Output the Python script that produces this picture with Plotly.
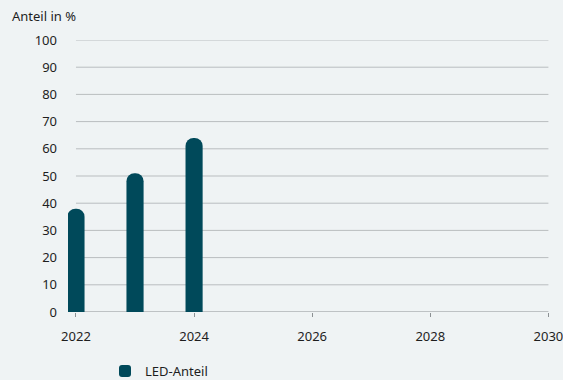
import plotly.graph_objects as go

years = [2022, 2023, 2024]
led_share = [38, 51, 64]
x_ticks = [2022, 2024, 2026, 2028, 2030]
y_ticks = [0, 10, 20, 30, 40, 50, 60, 70, 80, 90, 100]
series_name = "LED-Anteil"
y_title = "Anteil in %"

BAR = "#00495a"
BG = "#eff3f4"
GRID = "#b9bdbf"
AXIS = "#8c9194"
TXT = "#1e1e1e"
FONT = "Noto Sans"

x_start, x_end = x_ticks[0], x_ticks[-1]

fig = go.Figure()
fig.add_trace(go.Bar(
    x=years, y=led_share, name=series_name,
    marker=dict(color=BAR, line=dict(width=0), cornerradius="50%"),
    width=0.29, showlegend=True,
))

# gridlines and axis line drawn only over the data span (2022-2030)
shapes = []
for v in y_ticks:
    shapes.append(dict(type="line", xref="x", yref="y", x0=x_start, x1=x_end,
                       y0=v, y1=v, layer="below",
                       line=dict(color=AXIS if v == 0 else GRID, width=1)))

fig.update_layout(
    width=563, height=380,
    margin=dict(l=68, r=14, t=40, b=68, autoexpand=False),
    paper_bgcolor=BG, plot_bgcolor=BG,
    font=dict(family=FONT, size=13, color=TXT),
    title=dict(text=y_title, x=12/563, xref="container", xanchor="left",
               y=1-16/380, yref="container", yanchor="middle",
               font=dict(family=FONT, size=13, color=TXT)),
    showlegend=True,
    legend=dict(orientation="h", x=(105-68)/481, xanchor="left",
                y=-(356-312)/272, yanchor="top",
                font=dict(family=FONT, size=13, color=TXT),
                bgcolor="rgba(0,0,0,0)"),
    shapes=shapes,
)
fig.update_xaxes(
    range=[2021.865, 2030.01], tickvals=x_ticks, ticktext=[str(v) for v in x_ticks],
    showgrid=False, showline=False, zeroline=False,
    ticks="outside", ticklen=4, tickcolor=AXIS, tickwidth=1,
    ticklabelstandoff=8, ticklabeloverflow="allow",
)
fig.update_yaxes(
    range=[0, 100], tickvals=y_ticks, showgrid=False,
    showline=False, zeroline=False, ticks="", ticklabelstandoff=10,
)
fig.write_html("out.html", config={"displayModeBar": False},
               post_script="document.body.style.margin='0';")
